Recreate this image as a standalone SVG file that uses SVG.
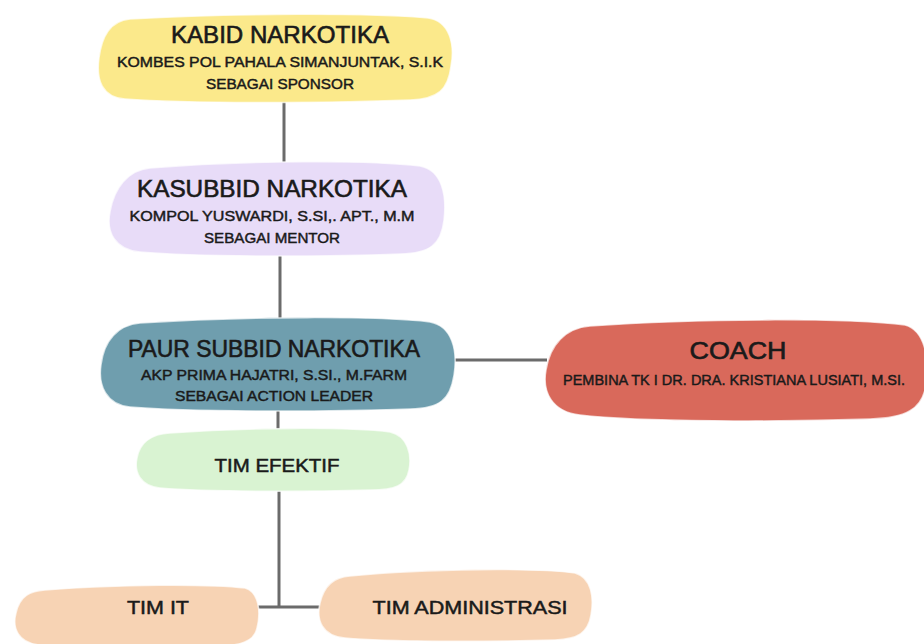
<svg xmlns="http://www.w3.org/2000/svg" width="924" height="644" viewBox="0 0 924 644">
<style>
.t{font-family:"Liberation Sans",Arial,sans-serif;fill:#1a1a1a;text-anchor:middle;stroke:#1a1a1a;stroke-width:0.45}
.h{font-size:23px;stroke-width:0.6}
.s{font-size:14.5px}
.m{font-size:19px;stroke-width:0.5}
.conn{stroke:#6b6b6b;stroke-width:3;fill:none}
.edge{stroke:#ffffff;stroke-width:1.5;stroke-opacity:0.7}
</style>
<rect width="924" height="644" fill="#ffffff"/>
<g id="connectors">
<line class="conn" x1="284" y1="100" x2="284" y2="166"/>
<line class="conn" x1="280" y1="253" x2="280" y2="320"/>
<line class="conn" x1="453" y1="360" x2="547" y2="360"/>
<line class="conn" x1="278" y1="407" x2="278" y2="432"/>
<line class="conn" x1="279" y1="488" x2="279" y2="607"/>
<line class="conn" x1="256" y1="607" x2="322" y2="607"/>
</g>
<g id="kabid">
<path class="edge" fill="#fbe98b" d="M130,19 C250,12 380,14 428,18 C450,21 455,45 451,66 C448,90 438,99 410,100 C330,103 190,104 125,99 C102,97 96,80 99,58 C102,36 110,21 130,19 Z"/>
<text class="t h" x="280" y="43" textLength="218" lengthAdjust="spacingAndGlyphs">KABID NARKOTIKA</text>
<text class="t s" x="280" y="67" textLength="326" lengthAdjust="spacingAndGlyphs">KOMBES POL PAHALA SIMANJUNTAK, S.I.K</text>
<text class="t s" x="280" y="89" textLength="148" lengthAdjust="spacingAndGlyphs">SEBAGAI SPONSOR</text>
</g>
<g id="kasubbid">
<path class="edge" fill="#e8dcf8" d="M150,168 C250,160 370,160 420,166 C442,170 447,195 444,220 C441,245 430,253 400,254 C320,257 200,257 140,252 C115,250 106,232 110,212 C114,188 128,170 150,168 Z"/>
<text class="t h" x="272" y="197" textLength="270" lengthAdjust="spacingAndGlyphs">KASUBBID NARKOTIKA</text>
<text class="t s" x="272" y="221" textLength="285" lengthAdjust="spacingAndGlyphs">KOMPOL YUSWARDI, S.SI,. APT., M.M</text>
<text class="t s" x="272" y="243" textLength="136" lengthAdjust="spacingAndGlyphs">SEBAGAI MENTOR</text>
</g>
<g id="paur">
<path class="edge" fill="#6f9eae" d="M140,323 C250,316 380,316 430,322 C452,326 458,350 454,375 C450,400 440,408 410,409 C320,412 190,412 130,407 C106,405 98,385 101,365 C104,340 118,325 140,323 Z"/>
<text class="t h" x="274" y="357" textLength="292" lengthAdjust="spacingAndGlyphs">PAUR SUBBID NARKOTIKA</text>
<text class="t s" x="274" y="380" textLength="266" lengthAdjust="spacingAndGlyphs">AKP PRIMA HAJATRI, S.SI., M.FARM</text>
<text class="t s" x="274" y="401" textLength="198" lengthAdjust="spacingAndGlyphs">SEBAGAI ACTION LEADER</text>
</g>
<g id="coach">
<path class="edge" fill="#d9695b" d="M590,326 C700,318 850,318 905,325 C925,330 930,360 926,385 C922,410 905,418 870,419 C780,422 640,422 580,415 C552,412 542,392 546,370 C550,345 565,328 590,326 Z"/>
<text class="t h" x="738" y="359" textLength="97" lengthAdjust="spacingAndGlyphs">COACH</text>
<text class="t s" x="734" y="385" textLength="342" lengthAdjust="spacingAndGlyphs">PEMBINA TK I DR. DRA. KRISTIANA LUSIATI, M.SI.</text>
</g>
<g id="tim-efektif">
<path class="edge" fill="#d9f3d2" d="M170,433 C250,427 350,427 390,432 C408,436 412,455 409,470 C406,486 395,490 370,490 C300,492 210,492 160,488 C140,486 134,472 137,458 C140,442 152,434 170,433 Z"/>
<text class="t m" x="277" y="472" textLength="125" lengthAdjust="spacingAndGlyphs">TIM EFEKTIF</text>
</g>
<g id="tim-it">
<path class="edge" fill="#f7d3b4" d="M45,590 C120,584 210,584 245,588 C259,592 261,612 257,628 C254,642 240,646 215,646 C150,648 80,648 40,645 C18,643 12,628 16,613 C20,596 30,591 45,590 Z"/>
<text class="t m" x="158" y="614" textLength="62" lengthAdjust="spacingAndGlyphs">TIM IT</text>
</g>
<g id="tim-administrasi">
<path class="edge" fill="#f7d3b4" d="M350,576 C430,568 540,568 575,573 C592,578 594,598 591,615 C588,633 578,639 555,640 C480,642 390,642 345,638 C322,636 316,620 320,603 C324,586 333,577 350,576 Z"/>
<text class="t m" x="470" y="614" textLength="195" lengthAdjust="spacingAndGlyphs">TIM ADMINISTRASI</text>
</g>
</svg>
